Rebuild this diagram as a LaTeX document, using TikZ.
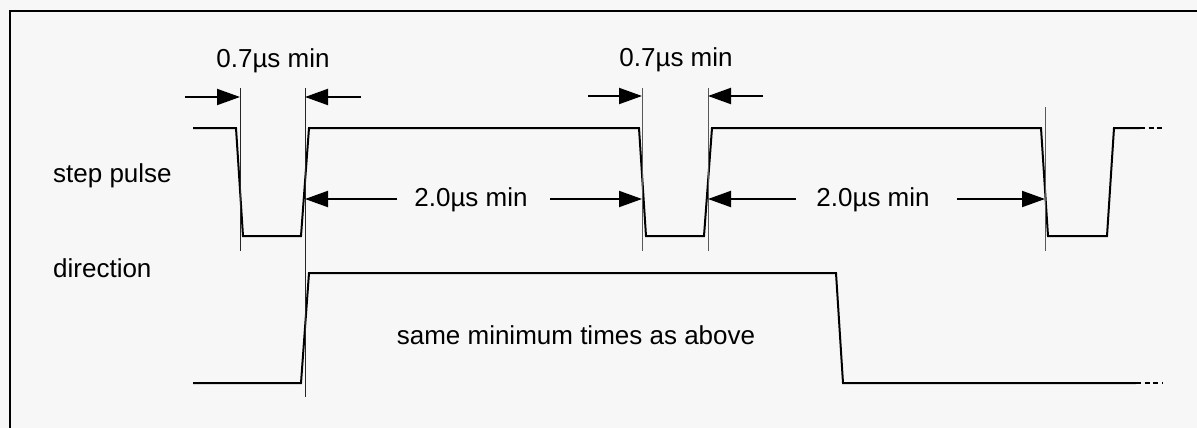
\documentclass[tikz,border=0pt]{standalone}
\usepackage{fontspec}
\setmainfont{Liberation Sans}
\usetikzlibrary{arrows.meta}
\definecolor{bg}{HTML}{F7F7F7}
\begin{document}
\begin{tikzpicture}[x=1pt,y=-1pt,
  sig/.style={line width=2pt, line join=miter},
  guide/.style={line width=1pt, draw=black!65},
  dimarrow/.style={line width=2pt, -{Triangle[length=23pt,width=16pt]}},
  lbl/.style={font=\fontsize{26}{31}\selectfont, inner sep=0pt, anchor=base},
]
\fill[bg] (0,0) rectangle (1197,428);
\useasboundingbox (0,0) rectangle (1197,428);
\draw[line width=2pt] (9.5,440) -- (9.5,11) -- (1210,11);

% step pulse signal
\coordinate (s0) at (193,128);
\coordinate (s1) at (236,128);
\coordinate (s2) at (243,236);
\coordinate (s3) at (301,236);
\coordinate (s4) at (309,128);
\coordinate (s5) at (639,128);
\coordinate (s6) at (646,236);
\coordinate (s7) at (704,236);
\coordinate (s8) at (712,128);
\coordinate (s9) at (1041,128);
\coordinate (s10) at (1048,236);
\coordinate (s11) at (1107,236);
\coordinate (s12) at (1114,128);
\coordinate (s13) at (1140,128);
\coordinate (s14) at (1163,128);
\draw[sig] (s0) -- (s1) -- (s2) -- (s3) -- (s4) -- (s5) -- (s6) -- (s7) -- (s8) -- (s9) -- (s10) -- (s11) -- (s12) -- (s13);
\draw[sig, dash pattern=on 5pt off 3.5pt] (s13) -- (s14);

% direction signal
\coordinate (d0) at (193,383);
\coordinate (d1) at (301,383);
\coordinate (d2) at (309,273);
\coordinate (d3) at (836,273);
\coordinate (d4) at (843,383);
\coordinate (d5) at (1136,383);
\coordinate (d6) at (1163,383);
\draw[sig] (d0) -- (d1) -- (d2) -- (d3) -- (d4) -- (d5);
\draw[sig, dash pattern=on 5pt off 3.5pt] (d5) -- (d6);

% guide lines
\coordinate (g1t) at (240,88);  \coordinate (g1b) at (240,251);
\coordinate (g2t) at (305,88);  \coordinate (g2b) at (305,397);
\coordinate (g3t) at (642,88);  \coordinate (g3b) at (642,251);
\coordinate (g4t) at (708,88);  \coordinate (g4b) at (708,251);
\coordinate (g5t) at (1045,107); \coordinate (g5b) at (1045,251);
\draw[guide, draw=black!85] (g1t) -- (g1b);
\draw[guide, draw=black!85] (g2t) -- (g2b);
\draw[guide] (g3t) -- (g3b);
\draw[guide] (g4t) -- (g4b);
\draw[guide] (g5t) -- (g5b);

% dimension arrows
\coordinate (a1s) at (185,97);  \coordinate (a1e) at (240,97);
\coordinate (a2s) at (361,97);  \coordinate (a2e) at (305,97);
\coordinate (a3s) at (588,96);  \coordinate (a3e) at (642,96);
\coordinate (a4s) at (763,96);  \coordinate (a4e) at (708,96);
\coordinate (b1s) at (397,199); \coordinate (b1e) at (305,199);
\coordinate (b2s) at (550,199); \coordinate (b2e) at (642,199);
\coordinate (b3s) at (796,199); \coordinate (b3e) at (708,199);
\coordinate (b4s) at (957,199); \coordinate (b4e) at (1045,199);
\draw[dimarrow] (a1s) -- (a1e);
\draw[dimarrow] (a2s) -- (a2e);
\draw[dimarrow] (a3s) -- (a3e);
\draw[dimarrow] (a4s) -- (a4e);
\draw[dimarrow] (b1s) -- (b1e);
\draw[dimarrow] (b2s) -- (b2e);
\draw[dimarrow] (b3s) -- (b3e);
\draw[dimarrow] (b4s) -- (b4e);

% labels
\node[lbl] (t1) at (273,67) {0.7µs min};
\node[lbl] (t2) at (676,66.5) {0.7µs min};
\node[lbl] (t3) at (471,206.5) {2.0µs min};
\node[lbl] (t4) at (873,206.5) {2.0µs min};
\node[lbl, anchor=base west] (sp) at (53,182) {step pulse};
\node[lbl, anchor=base west] (dir) at (53,277) {direction};
\node[lbl] (same) at (576,344) {same minimum times as above};
\end{tikzpicture}
\end{document}
